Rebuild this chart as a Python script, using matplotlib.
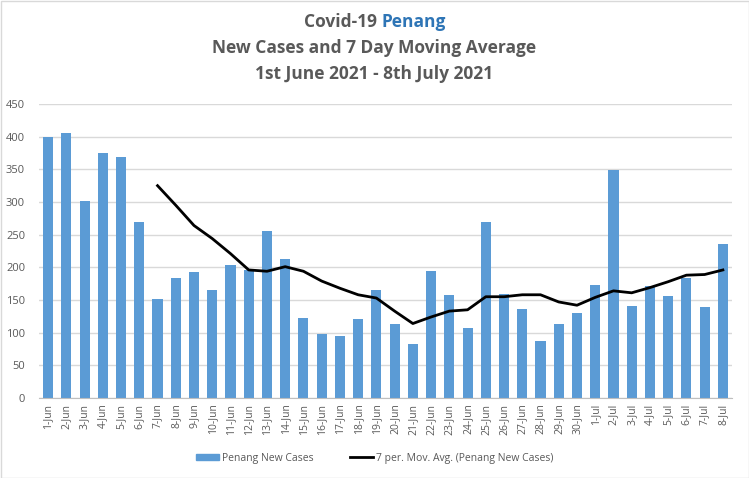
import matplotlib
matplotlib.use("Agg")
import matplotlib.pyplot as plt
from matplotlib.lines import Line2D
from matplotlib.patches import Patch, Rectangle
import numpy as np

dates = ["1-Jun", "2-Jun", "3-Jun", "4-Jun", "5-Jun", "6-Jun", "7-Jun", "8-Jun", "9-Jun", "10-Jun",
         "11-Jun", "12-Jun", "13-Jun", "14-Jun", "15-Jun", "16-Jun", "17-Jun", "18-Jun", "19-Jun",
         "20-Jun", "21-Jun", "22-Jun", "23-Jun", "24-Jun", "25-Jun", "26-Jun", "27-Jun", "28-Jun",
         "29-Jun", "30-Jun", "1-Jul", "2-Jul", "3-Jul", "4-Jul", "5-Jul", "6-Jul", "7-Jul", "8-Jul"]
new_cases = [400, 406, 302, 375, 369, 270, 152, 184, 193, 166, 204, 196, 255, 213, 122, 98, 95,
             121, 166, 113, 83, 194, 158, 107, 269, 159, 136, 87, 113, 130, 173, 349, 141, 171,
             156, 184, 139, 236]
# 7-period moving average, starting at 7-Jun
mov_avg = [325, 295, 264, 244, 221, 196, 194, 201, 194, 179, 168, 158, 153, 133, 114, 124, 133,
           135, 155, 155, 158, 158, 147, 142, 154, 164, 161, 169, 178, 188, 189, 196]

BLUE = "#5B9BD5"
GRAY = "#595959"

plt.rcParams['font.family'] = ['Open Sans', 'DejaVu Sans']

fig = plt.figure(figsize=(7.49, 4.78), dpi=100)
ax = fig.add_axes([39 / 749, 1 - 398 / 478, (732 - 39) / 749, (398 - 104) / 478])

x = np.arange(len(dates))
ax.bar(x, new_cases, width=0.555, color=BLUE, zorder=2)
ma_x = x[len(dates) - len(mov_avg):]
ax.plot(ma_x, mov_avg, color="black", lw=2, zorder=3)

ax.set_xlim(-0.5, len(dates) - 0.5)
ax.set_ylim(0, 450)
ax.set_yticks(np.arange(0, 451, 50))
ax.yaxis.grid(True, color="#D9D9D9", lw=1, zorder=0)
ax.set_axisbelow(True)
for s in ["top", "right", "left"]:
    ax.spines[s].set_visible(False)
ax.spines["bottom"].set_color("#BFBFBF")
ax.set_xticks(x)
ax.set_xticklabels(dates, rotation=90, fontsize=7.5, color=GRAY)
ax.tick_params(axis="y", labelsize=8, colors=GRAY, length=0, pad=10)
ax.tick_params(axis="x", length=0, pad=4)

# Title
tfs = 12.5
y1 = 1 - 22 / 478
fig.canvas.draw()
r = fig.canvas.get_renderer()
ta = fig.text(0, y1, "Covid-19 ", fontsize=tfs, fontweight="bold", color=GRAY, va="center", ha="left")
tb = fig.text(0, y1, "Penang", fontsize=tfs, fontweight="bold", color="#2E75B6", va="center", ha="left")
wa = ta.get_window_extent(r).width / 749
wb = tb.get_window_extent(r).width / 749
x0 = 0.5 - (wa + wb) / 2
ta.set_x(x0)
tb.set_x(x0 + wa)
fig.text(0.5, 1 - 48 / 478, "New Cases and 7 Day Moving Average", fontsize=tfs, fontweight="bold",
         color=GRAY, va="center", ha="center")
fig.text(0.5, 1 - 74 / 478, "1st June 2021 - 8th July 2021", fontsize=tfs, fontweight="bold",
         color=GRAY, va="center", ha="center")

handles = [Patch(color=BLUE), Line2D([0], [0], color="black", lw=2)]
labels = ["Penang New Cases", "7 per. Mov. Avg. (Penang New Cases)"]
fig.legend(handles, labels, loc="center", bbox_to_anchor=(0.5, 1 - 458 / 478), ncol=2, frameon=False,
           fontsize=7.5, labelcolor=GRAY, handlelength=2.2, handleheight=0.5, columnspacing=3.5,
           handletextpad=0.3)

fig.add_artist(Rectangle((0.5 / 749, 0.5 / 478), 1 - 1 / 749, 1 - 1 / 478, transform=fig.transFigure,
                         fill=False, edgecolor="#D9D9D9", lw=1))

fig.savefig("out.png", dpi=100)
